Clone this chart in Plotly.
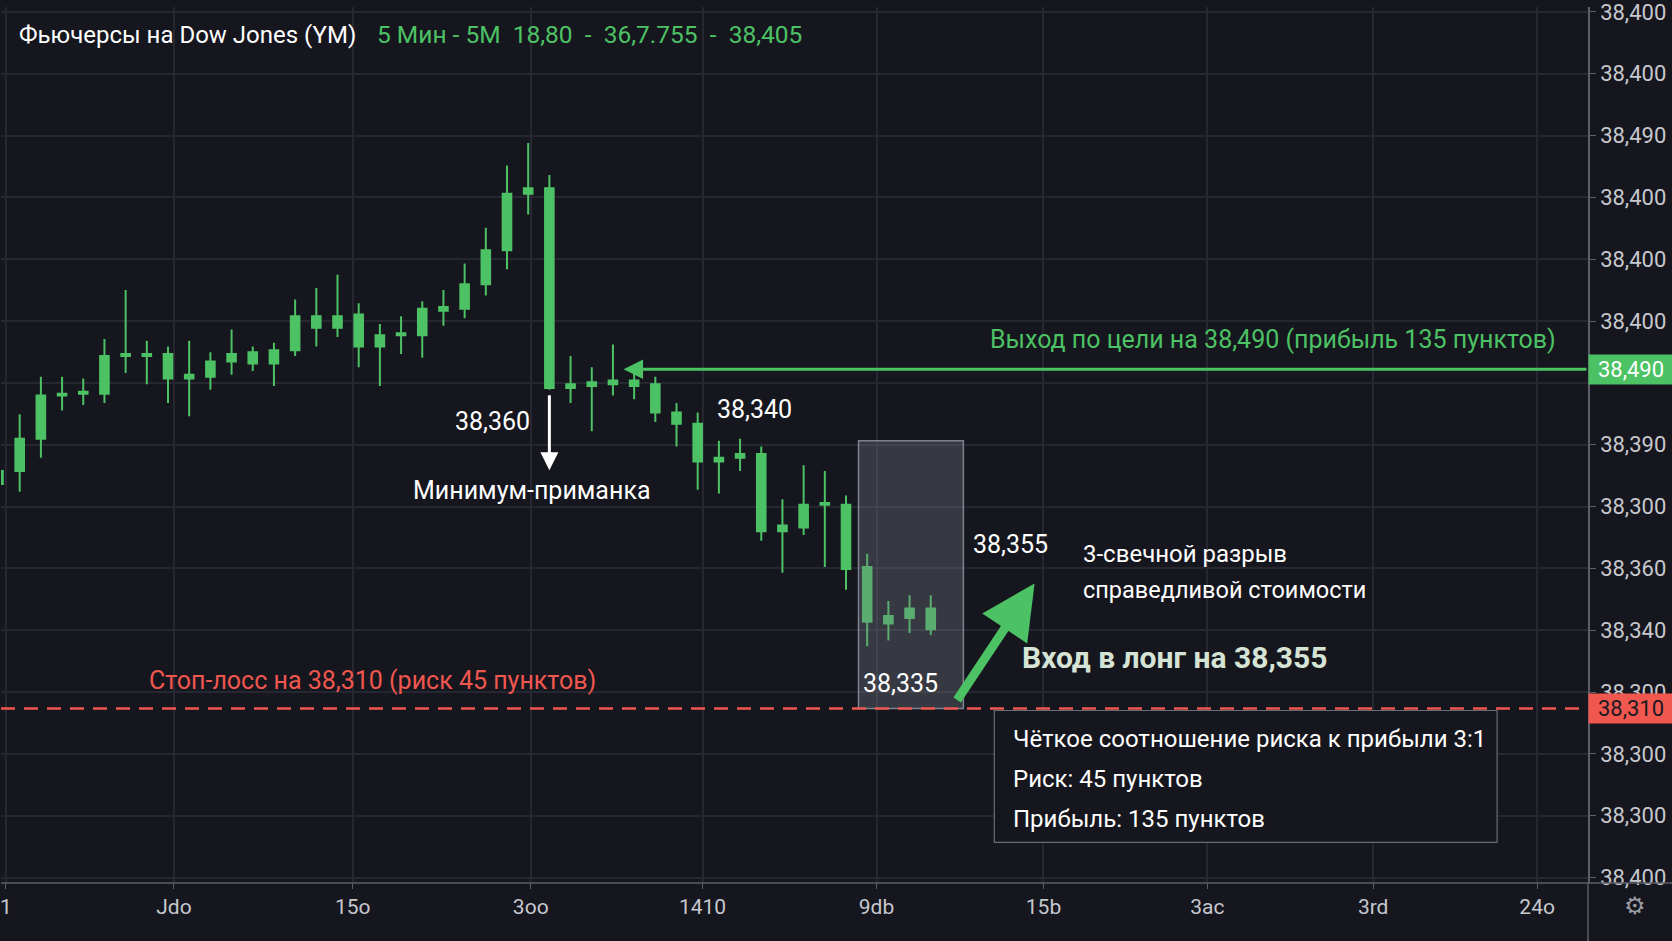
import plotly.graph_objects as go

# ---------------- data ----------------
opens  = [38429, 38436, 38453, 38476, 38477, 38477, 38497, 38497, 38498, 38485,
          38486, 38494, 38493, 38493, 38500, 38512, 38518, 38519, 38502, 38508,
          38508, 38521, 38522, 38535, 38553, 38583, 38586, 38480, 38481, 38482,
          38484, 38482, 38467, 38461, 38441, 38443, 38445, 38404, 38406, 38418,
          38418, 38385, 38355, 38358, 38363]
highs  = [38440, 38466, 38486, 38486, 38485, 38506, 38532, 38505, 38502, 38505,
          38499, 38511, 38502, 38504, 38527, 38533, 38540, 38525, 38514, 38518,
          38526, 38532, 38546, 38565, 38598, 38610, 38593, 38497, 38491, 38503,
          38488, 38486, 38472, 38467, 38452, 38453, 38449, 38421, 38439, 38436,
          38423, 38392, 38367, 38370, 38370]
lows   = [38425, 38425, 38443, 38468, 38471, 38472, 38488, 38482, 38472, 38465,
          38479, 38487, 38489, 38481, 38497, 38502, 38507, 38491, 38481, 38498,
          38496, 38513, 38517, 38529, 38543, 38572, 38479, 38472, 38457, 38476,
          38474, 38462, 38449, 38426, 38424, 38436, 38399, 38382, 38402, 38385,
          38373, 38343, 38346, 38350, 38349]
closes = [38436, 38453, 38476, 38477, 38478, 38497, 38498, 38498, 38485, 38487,
          38494, 38498, 38499, 38500, 38518, 38518, 38512, 38502, 38508, 38509,
          38522, 38523, 38535, 38553, 38583, 38586, 38480, 38482, 38483, 38484,
          38481, 38467, 38461, 38441, 38443, 38445, 38404, 38407, 38418, 38419,
          38384, 38356, 38359, 38363, 38352]
candle_idx = list(range(len(opens)))

x_tick_text = ["1", "Jdo", "15o", "3oo", "1410", "9db", "15b", "3ac", "3rd", "24o"]
x_tick_pos = [0.35, 8.28, 16.72, 25.12, 33.23, 41.44, 49.32, 57.05, 64.88, 72.62]

y_tick_text = ["38,400", "38,400", "38,490", "38,400", "38,400", "38,400", "",
               "38,390", "38,300", "38,360", "38,340", "38,300", "38,300",
               "38,300", "38,400"]
y_tick_top = 38679.5
y_tick_step = 32.8
y_tick_vals = [y_tick_top - i * y_tick_step for i in range(len(y_tick_text))]

target_price = 38490
stop_price = 38310
entry_price = 38355
bait_low_idx = 26
fvg_start_idx, fvg_end_idx = 41, 44
fvg_top = 38452

title_main = "Фьючерсы на Dow Jones (YM)"
title_info = "5 Мин - 5М  18,80  -  36,7.755  -  38,405"

# ---------------- style ----------------
BG = "#16161e"
GRID = "#272731"
GREEN = "#4cc264"
RED = "#f0574f"
AXC = "#5c5f68"
TXT = "#c6c8ce"
FONT = "Roboto"

x_range = [0.118, 75.02]
y_range = [38217.4, 38682.1]

fig = go.Figure()
fig.add_trace(go.Candlestick(
    x=candle_idx, open=opens, high=highs, low=lows, close=closes,
    increasing=dict(line=dict(color=GREEN, width=2), fillcolor=GREEN),
    decreasing=dict(line=dict(color=GREEN, width=2), fillcolor=GREEN),
    whiskerwidth=0, showlegend=False, hoverinfo="skip",
))

shapes = []
# FVG box
shapes.append(dict(type="rect", xref="x", yref="y",
                   x0=fvg_start_idx - 0.41, x1=fvg_end_idx + 1.54,
                   y0=stop_price, y1=fvg_top,
                   fillcolor="rgba(120,126,140,0.33)",
                   line=dict(color="rgba(150,154,165,0.8)", width=1.5), layer="above"))
# stop line
shapes.append(dict(type="line", xref="paper", yref="y", x0=0, x1=1,
                   y0=stop_price, y1=stop_price,
                   line=dict(color=RED, width=2.5, dash="14px,9px")))
# info box
shapes.append(dict(type="rect", xref="x", yref="y", x0=47.0, x1=70.73,
                   y0=38238.9, y1=38308.9, fillcolor=BG,
                   line=dict(color="#6a6d76", width=1.2)))
# axis extensions
shapes.append(dict(type="line", xref="paper", yref="paper", x0=1, x1=1,
                   y0=0, y1=-0.07, line=dict(color=AXC, width=1.5)))
shapes.append(dict(type="line", xref="paper", yref="paper", x0=0, x1=1.06,
                   y0=0, y1=0, line=dict(color=AXC, width=1.5)))

ann = []
def txt(x, y, text, size=25, color="#ffffff", xanchor="left", bold=False, xref="x", yref="y", yanchor="middle"):
    ann.append(dict(x=x, y=y, xref=xref, yref=yref, text=("<b>%s</b>" % text) if bold else text,
                    showarrow=False, xanchor=xanchor, yanchor=yanchor,
                    font=dict(family=FONT, size=size, color=color)))

# title
txt(16 / 1588, 1 - 28 / 883, title_main, 24, "#ffffff", xref="paper", yref="paper")
txt(374 / 1588, 1 - 28 / 883, title_info, 24.5, GREEN, xref="paper", yref="paper")

# target arrow
ann.append(dict(x=29.5, y=target_price, ax=x_range[1], ay=target_price,
                xref="x", yref="y", axref="x", ayref="y", showarrow=True,
                arrowhead=2, arrowsize=1.3, arrowwidth=3, arrowcolor=GREEN, text=""))
txt(73.6, 38505.8, "Выход по цели на 38,490 (прибыль 135 пунктов)", 25, GREEN, xanchor="right")

# bait arrow
ann.append(dict(x=bait_low_idx, y=38436.3, ax=bait_low_idx, ay=38477,
                xref="x", yref="y", axref="x", ayref="y", showarrow=True,
                arrowhead=2, arrowsize=1.2, arrowwidth=3, arrowcolor="#ffffff", text=""))
txt(25.2, 38462.1, "38,360", 25, "#ffffff", xanchor="right")
txt(25.2, 38425.8, "Минимум-приманка", 25, "#ffffff", xanchor="center")

txt(33.8, 38468.4, "38,340", 25, "#ffffff")
txt(45.9, 38396.8, "38,355", 25, "#ffffff")
txt(51.1, 38392.1, "3-свечной разрыв", 24, "#ffffff")
txt(51.1, 38372.9, "справедливой стоимости", 23.5, "#ffffff")

# entry arrow
ann.append(dict(x=48.9, y=38376.3, ax=45.2, ay=38313.7,
                xref="x", yref="y", axref="x", ayref="y", showarrow=True,
                arrowhead=2, arrowsize=1.2, arrowwidth=9, arrowcolor=GREEN, text=""))
txt(48.2, 38336.8, "Вход в лонг на " + "{:,}".format(entry_price), 30, "#d6e4d6", bold=True)
txt(40.7, 38323.1, "38,335", 25, "#ffffff")
txt(7.0, 38324.7, "Стоп-лосс на 38,310 (риск 45 пунктов)", 25, RED)

# info box text
txt(47.8, 38293.7, "Чёткое соотношение риска к прибыли 3:1", 24, "#ffffff")
txt(47.8, 38272.6, "Риск: 45 пунктов", 24, "#ffffff")
txt(47.8, 38251.6, "Прибыль: 135 пунктов", 24, "#ffffff")

# price labels on axis
ann.append(dict(x=1, y=target_price, xref="paper", yref="y", text="{:,}".format(target_price),
                showarrow=False, xanchor="left", yanchor="middle", bgcolor=GREEN,
                width=80, height=25, borderpad=2, align="center",
                font=dict(family=FONT, size=22, color="#ffffff")))
ann.append(dict(x=1, y=stop_price, xref="paper", yref="y", text="{:,}".format(stop_price),
                showarrow=False, xanchor="left", yanchor="middle", bgcolor=RED,
                width=80, height=25, borderpad=2, align="center",
                font=dict(family=FONT, size=22, color="#1a1a20")))
# gear icon
txt(1635 / 1588, -(906 - 883) / 883, "⚙", 24, "#9a9ca4", xanchor="center", xref="paper", yref="paper")

fig.update_layout(
    width=1672, height=941,
    margin=dict(l=0, r=84, t=0, b=58),
    paper_bgcolor=BG, plot_bgcolor=BG,
    showlegend=False, boxgap=0.42,
    shapes=shapes, annotations=ann,
    font=dict(family=FONT, color=TXT),
    xaxis=dict(range=x_range, tickvals=x_tick_pos, ticktext=x_tick_text,
               showgrid=True, gridcolor=GRID, gridwidth=1.5, zeroline=False,
               showline=False, ticks="outside", ticklen=5, tickcolor=AXC,
               ticklabeloverflow="allow",
               tickfont=dict(family=FONT, size=21, color=TXT),
               rangeslider=dict(visible=False), fixedrange=True),
    yaxis=dict(range=y_range, side="right", tickvals=y_tick_vals, ticktext=y_tick_text,
               showgrid=True, gridcolor=GRID, gridwidth=1.5, zeroline=False,
               showline=True, linecolor=AXC, linewidth=1.5, ticks="outside",
               ticklen=6, tickcolor=AXC, ticklabeloverflow="allow",
               tickfont=dict(family=FONT, size=22, color=TXT), fixedrange=True),
)

fig.write_html("out.html", config={"displayModeBar": False},
               post_script="document.body.style.margin='0';document.body.style.background='%s';" % BG)
